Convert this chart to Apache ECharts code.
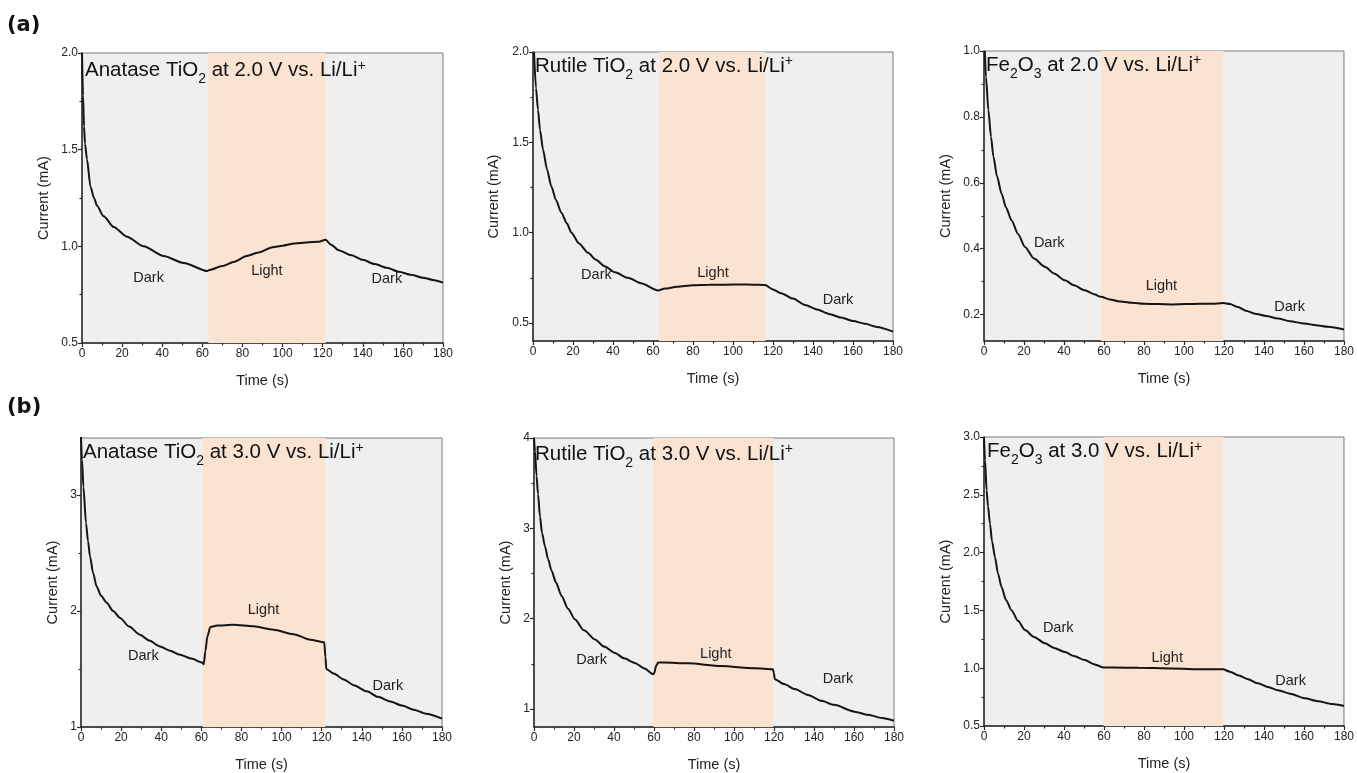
<!DOCTYPE html>
<html>
<head>
<meta charset="utf-8">
<script src="https://cdn.jsdelivr.net/npm/echarts@6/dist/echarts.min.js"></script>
<style>
html,body{margin:0;padding:0;background:#fff;}
#chart{width:1357px;height:773px;}
</style>
</head>
<body>
<div id="chart"></div>
<script>
// ---------- DATA ----------
const xTicks = [0, 20, 40, 60, 80, 100, 120, 140, 160, 180];
const xMinor = [10, 30, 50, 70, 90, 110, 130, 150, 170];

// Panel 1: Anatase TiO2 at 2.0 V
const t1 = [0,0.5,1,1.5,2.5,4.2,6,7.5,10.8,15.8,22.4,30.7,40.7,50.7,62.5,63.5,70,76,82,88,95,100,106,112,118,121.5,124,128,134,140,146,152,158,164,170,175,180];
const i1 = [2.0,1.78,1.62,1.53,1.45,1.31,1.25,1.21,1.155,1.10,1.05,1.0,0.95,0.914,0.872,0.878,0.898,0.92,0.95,0.968,0.995,1.003,1.015,1.02,1.024,1.034,1.01,0.98,0.955,0.93,0.908,0.889,0.869,0.853,0.838,0.826,0.812];
const light1 = [63, 121.5];
const y1Ticks = [0.5, 1.0, 1.5, 2.0];
const y1Minor = [0.75, 1.25, 1.75];

// Panel 2: Rutile TiO2 at 2.0 V
const t2 = [0.5,1.5,2.5,3.5,5,7,9.2,11.5,14.2,17,19.2,23,27.5,31.5,35.8,41,47.5,54,62.5,66,72,80,88,96,104,110,116,120,124,130,136,142,148,154,160,166,172,180];
const i2 = [2.0,1.8,1.68,1.57,1.46,1.35,1.255,1.18,1.11,1.05,1.0,0.94,0.888,0.85,0.814,0.78,0.75,0.72,0.68,0.69,0.70,0.708,0.711,0.712,0.713,0.712,0.71,0.685,0.665,0.635,0.60,0.575,0.55,0.53,0.511,0.495,0.478,0.452];
const light2 = [63, 116.2];
const y2Ticks = [0.5, 1.0, 1.5, 2.0];
const y2Minor = [0.75, 1.25, 1.75];

// Panel 3: Fe2O3 at 2.0 V
const t3 = [0.4,1,2.2,3.5,4.7,6.5,8.8,11,13.8,17,20.5,25,30.5,35,40.5,45,50.4,55,58.5,63,67,74,80,87,94,101,108,114,119.6,123,127,131,135.4,141,147,153,160.3,166,172,180];
const i3 = [1.0,0.92,0.82,0.74,0.68,0.62,0.567,0.525,0.486,0.445,0.405,0.37,0.345,0.325,0.304,0.289,0.274,0.262,0.254,0.246,0.241,0.236,0.233,0.232,0.231,0.232,0.233,0.233,0.235,0.232,0.223,0.212,0.203,0.196,0.188,0.18,0.173,0.168,0.163,0.155];
const light3 = [58.5, 119.6];
const y3Ticks = [0.2, 0.4, 0.6, 0.8, 1.0];
const y3Minor = [0.3, 0.5, 0.7, 0.9];

// Panel 4: Anatase TiO2 at 3.0 V
const t4 = [0,0.5,1.2,2.5,3.5,4.5,6,7.8,10,12.8,16,19.5,24,29.4,34,39.4,44,49.4,55,60.5,61.2,62,63,64.5,68,76,86,96,106,114.3,121.3,121.9,122.3,126,131,136,142.6,148,154.2,160,165.9,172,180];
const i4 = [3.5,3.3,3.07,2.756,2.6,2.47,2.33,2.21,2.13,2.07,2.0,1.94,1.865,1.795,1.745,1.694,1.66,1.623,1.59,1.555,1.54,1.65,1.78,1.862,1.875,1.88,1.867,1.838,1.80,1.752,1.73,1.6,1.50,1.46,1.41,1.36,1.307,1.26,1.22,1.185,1.149,1.115,1.072];
const light4 = [60.7, 121.8];
const y4Ticks = [1, 2, 3];
const y4Minor = [1.5, 2.5];

// Panel 5: Rutile TiO2 at 3.0 V
const t5 = [0,0.5,1.3,2,3,4,5.5,7,8.8,11,13.8,17,20.5,25,30.5,35,40.5,45,50.4,55,59.6,60.2,61,62.1,65,77,93.7,110.4,119.5,119.9,120.4,125,130.4,137,143.7,150,160.3,167,174,180];
const i5 = [4.0,3.85,3.58,3.38,3.13,2.95,2.80,2.66,2.53,2.40,2.25,2.11,1.99,1.87,1.77,1.69,1.62,1.56,1.51,1.45,1.383,1.40,1.475,1.515,1.515,1.505,1.475,1.45,1.44,1.40,1.33,1.275,1.22,1.155,1.09,1.045,0.97,0.935,0.90,0.87];
const light5 = [59.7, 119.6];
const y5Ticks = [1, 2, 3, 4];
const y5Minor = [1.5, 2.5, 3.5];

// Panel 6: Fe2O3 at 3.0 V
const t6 = [0,0.5,1.3,2,3,4,5.5,7,8.8,11,13.8,17,20.5,25,30.5,35,40.5,45,50.4,55,59.6,65,77,93.7,110.4,119.5,123,127,132,137,142,147,153,160.3,167,174,180];
const i6 = [3.0,2.8,2.54,2.40,2.25,2.10,1.96,1.82,1.70,1.59,1.50,1.41,1.33,1.27,1.215,1.175,1.14,1.105,1.07,1.035,1.007,1.005,1.004,0.998,0.99,0.99,0.97,0.94,0.905,0.869,0.838,0.81,0.78,0.74,0.715,0.69,0.673];
const light6 = [59.7, 119.6];
const y6Ticks = [0.5, 1.0, 1.5, 2.0, 2.5, 3.0];
const y6Minor = [0.75, 1.25, 1.75, 2.25, 2.75];

// Region labels [time, current, text]
const labels1 = [[33.2, 0.836, 'Dark'], [92.2, 0.874, 'Light'], [152, 0.831, 'Dark']];
const labels2 = [[31.7, 0.765, 'Dark'], [90, 0.778, 'Light'], [152.5, 0.625, 'Dark']];
const labels3 = [[32.6, 0.417, 'Dark'], [88.7, 0.287, 'Light'], [152.8, 0.223, 'Dark']];
const labels4 = [[31.1, 1.608, 'Dark'], [91, 2.01, 'Light'], [153, 1.356, 'Dark']];
const labels5 = [[28.8, 1.54, 'Dark'], [90.9, 1.61, 'Light'], [152, 1.33, 'Dark']];
const labels6 = [[37.1, 1.35, 'Dark'], [91.6, 1.09, 'Light'], [153.3, 0.89, 'Dark']];

// Titles: [text, style] pieces (n = normal, s = subscript, p = superscript)
const titles = [
  [['Anatase TiO','n'], ['2','s'], [' at 2.0 V vs. Li/Li','n'], ['+','p']],
  [['Rutile TiO','n'], ['2','s'], [' at 2.0 V vs. Li/Li','n'], ['+','p']],
  [['Fe','n'], ['2','s'], ['O','n'], ['3','s'], [' at 2.0 V vs. Li/Li','n'], ['+','p']],
  [['Anatase TiO','n'], ['2','s'], [' at 3.0 V vs. Li/Li','n'], ['+','p']],
  [['Rutile TiO','n'], ['2','s'], [' at 3.0 V vs. Li/Li','n'], ['+','p']],
  [['Fe','n'], ['2','s'], ['O','n'], ['3','s'], [' at 3.0 V vs. Li/Li','n'], ['+','p']]
];

// ---------- LAYOUT / STYLE ----------
const panels = [
  {t:t1, i:i1, light:light1, yt:y1Ticks, ym:y1Minor, lab:labels1, ymin:0.5, ymax:2.0, dec:1, grid:{left:82, top:53, width:361, height:290}, title:{left:85, top:54.5}, nameGap:31},
  {t:t2, i:i2, light:light2, yt:y2Ticks, ym:y2Minor, lab:labels2, ymin:0.4, ymax:2.0, dec:1, grid:{left:533, top:52, width:360, height:289}, title:{left:535, top:50}, nameGap:32},
  {t:t3, i:i3, light:light3, yt:y3Ticks, ym:y3Minor, lab:labels3, ymin:0.12, ymax:1.0, dec:1, grid:{left:984, top:51, width:360, height:290}, title:{left:986, top:49}, nameGap:31},
  {t:t4, i:i4, light:light4, yt:y4Ticks, ym:y4Minor, lab:labels4, ymin:1, ymax:3.49, dec:0, grid:{left:81, top:438, width:361, height:289}, title:{left:83, top:436.5}, nameGap:21},
  {t:t5, i:i5, light:light5, yt:y5Ticks, ym:y5Minor, lab:labels5, ymin:0.8, ymax:4.0, dec:0, grid:{left:534, top:438, width:360, height:289}, title:{left:535, top:438}, nameGap:21},
  {t:t6, i:i6, light:light6, yt:y6Ticks, ym:y6Minor, lab:labels6, ymin:0.5, ymax:3.0, dec:1, grid:{left:984, top:437, width:360, height:289}, title:{left:987, top:435.5}, nameGap:31}
];

const FONT = '"Liberation Sans", Arial, sans-serif';
const axisColor = '#2a2a2a';

function richTitle(parts) {
  return parts.map(p => '{' + p[1] + '|' + p[0] + '}').join('');
}

const option = {
  animation: false,
  backgroundColor: '#fff',
  title: [],
  grid: [],
  xAxis: [],
  yAxis: [],
  series: []
};

const panelLabelStyle = {fontFamily: '"DejaVu Sans", sans-serif', fontWeight: 'bold', fontSize: 21, color: '#111'};
option.title.push({text: '(a)', left: 7, top: 15, padding: 0, textStyle: panelLabelStyle});
option.title.push({text: '(b)', left: 7, top: 397, padding: 0, textStyle: panelLabelStyle});

panels.forEach((p, k) => {
  option.grid.push(Object.assign({show: true, backgroundColor: '#efefef', borderColor: '#7a7a7a', borderWidth: 1}, p.grid));
  option.title.push({
    text: richTitle(titles[k]),
    left: p.title.left, top: p.title.top, padding: 0,
    textStyle: {
      fontWeight: 'normal', fontFamily: FONT, fontSize: 20.5, color: '#111',
      rich: {
        n: {fontFamily: FONT, fontWeight: 'normal', fontSize: 20.5, color: '#111', lineHeight: 32},
        s: {fontFamily: FONT, fontWeight: 'normal', fontSize: 14, color: '#111', lineHeight: 14, verticalAlign: 'bottom'},
        p: {fontFamily: FONT, fontWeight: 'normal', fontSize: 14, color: '#111', lineHeight: 14, padding: [0, 0, 9, 0], verticalAlign: 'middle'}
      }
    }
  });
  const base = option.xAxis.length;
  option.xAxis.push({
    type: 'value', gridIndex: k, min: 0, max: 180, interval: 20, position: 'bottom',
    name: 'Time (s)', nameLocation: 'middle', nameGap: 30,
    nameTextStyle: {fontFamily: FONT, fontSize: 14.5, color: '#222'},
    axisLine: {show: true, lineStyle: {color: axisColor, width: 1.5}},
    axisTick: {show: true, inside: false, length: 4, lineStyle: {color: axisColor, width: 1.2}, customValues: xTicks},
    axisLabel: {fontFamily: FONT, fontSize: 12, color: '#222', margin: 5, customValues: xTicks},
    splitLine: {show: false}
  });
  option.xAxis.push({
    type: 'value', gridIndex: k, min: 0, max: 180, position: 'bottom',
    axisLine: {show: false}, axisLabel: {show: false}, splitLine: {show: false},
    axisTick: {show: true, length: 2.5, lineStyle: {color: axisColor, width: 1.2}, customValues: xMinor}
  });
  const dec = p.dec;
  option.yAxis.push({
    type: 'value', gridIndex: k, min: p.ymin, max: p.ymax, position: 'left',
    name: 'Current (mA)', nameLocation: 'middle', nameGap: p.nameGap, nameRotate: 90,
    nameTextStyle: {fontFamily: FONT, fontSize: 14.5, color: '#222'},
    axisLine: {show: true, lineStyle: {color: axisColor, width: 1.5}},
    axisTick: {show: true, length: 4, lineStyle: {color: axisColor, width: 1.2}, customValues: p.yt},
    axisLabel: {fontFamily: FONT, fontSize: 12, color: '#222', margin: 4, customValues: p.yt,
      formatter: v => Number(v).toFixed(dec)},
    splitLine: {show: false}
  });
  option.yAxis.push({
    type: 'value', gridIndex: k, min: p.ymin, max: p.ymax, position: 'left',
    axisLine: {show: false}, axisLabel: {show: false}, splitLine: {show: false},
    axisTick: {show: true, length: 2.5, lineStyle: {color: axisColor, width: 1.2}, customValues: p.ym}
  });
  const data = p.t.map((tv, j) => [tv, p.i[j]]);
  option.series.push({
    type: 'line', xAxisIndex: base, yAxisIndex: base, data: data,
    showSymbol: false, symbol: 'none', smooth: 0.25, smoothMonotone: 'x',
    lineStyle: {color: '#151515', width: 2},
    clip: true, z: 5,
    markArea: {
      silent: true,
      itemStyle: {color: '#fae3d0'},
      data: [[{xAxis: p.light[0]}, {xAxis: p.light[1]}]]
    },
    markPoint: {
      silent: true, symbol: 'circle', symbolSize: 0,
      label: {show: true, position: 'inside', fontFamily: FONT, fontSize: 14.5, color: '#222',
        formatter: prm => prm.name},
      data: p.lab.map(l => ({name: l[2], coord: [l[0], l[1]]}))
    }
  });
});

const chart = echarts.init(document.getElementById('chart'), null, {renderer: 'canvas'});
chart.setOption(option);
</script>
</body>
</html>
